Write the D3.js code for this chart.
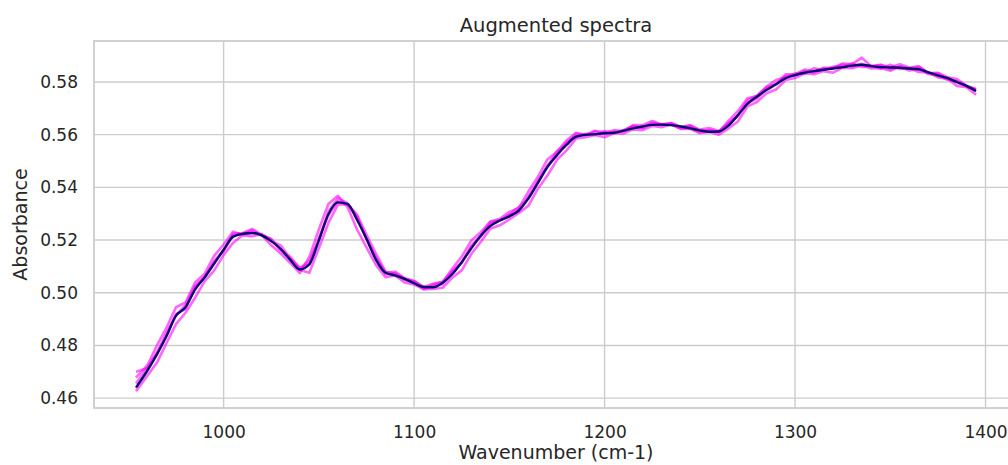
<!DOCTYPE html>
<html><head><meta charset="utf-8">
<script src="https://cdn.jsdelivr.net/npm/d3@7"></script>
<style>body{margin:0;background:#fff;overflow:hidden}svg{display:block;font-family:"DejaVu Sans",sans-serif}</style>
</head><body><svg id="chart" width="1008" height="465"></svg>
<script>
const wavenumbers=[954,960,965,970,975,980,985,990,995,1000,1005,1010,1015,1020,1025,1030,1035,1040,1045,1050,1055,1060,1065,1070,1075,1080,1085,1090,1095,1100,1105,1110,1115,1120,1125,1130,1135,1140,1145,1150,1155,1160,1165,1170,1175,1180,1185,1190,1195,1200,1205,1210,1215,1220,1225,1230,1235,1240,1245,1250,1255,1260,1265,1270,1275,1280,1285,1290,1295,1300,1305,1310,1315,1320,1325,1330,1335,1340,1345,1350,1355,1360,1365,1370,1375,1380,1385,1390,1395];
const meanSpectrum=[0.4640,0.4705,0.4766,0.4836,0.4913,0.4945,0.5012,0.5058,0.5110,0.5163,0.5213,0.5224,0.5227,0.5218,0.5196,0.5166,0.5125,0.5088,0.5108,0.5199,0.5298,0.5343,0.5337,0.5277,0.5205,0.5125,0.5076,0.5066,0.5053,0.5036,0.5022,0.5021,0.5038,0.5070,0.5116,0.5168,0.5216,0.5253,0.5274,0.5290,0.5313,0.5358,0.5417,0.5477,0.5523,0.5561,0.5592,0.5599,0.5602,0.5605,0.5607,0.5615,0.5624,0.5631,0.5637,0.5638,0.5636,0.5631,0.5624,0.5616,0.5611,0.5612,0.5634,0.5674,0.5717,0.5744,0.5769,0.5791,0.5814,0.5826,0.5835,0.5841,0.5846,0.5851,0.5856,0.5862,0.5865,0.5860,0.5856,0.5855,0.5854,0.5851,0.5848,0.5836,0.5825,0.5815,0.5799,0.5785,0.5765];
const augmented1=[0.4656,0.4716,0.4768,0.4849,0.4913,0.4954,0.5026,0.5059,0.5118,0.5162,0.5225,0.5227,0.5242,0.5220,0.5203,0.5164,0.5136,0.5092,0.5121,0.5199,0.5308,0.5359,0.5340,0.5289,0.5204,0.5133,0.5077,0.5080,0.5055,0.5045,0.5022,0.5034,0.5042,0.5081,0.5114,0.5178,0.5219,0.5268,0.5275,0.5297,0.5325,0.5357,0.5426,0.5479,0.5537,0.5565,0.5603,0.5599,0.5615,0.5608,0.5617,0.5613,0.5636,0.5636,0.5652,0.5639,0.5644,0.5630,0.5635,0.5619,0.5625,0.5614,0.5641,0.5674,0.5730,0.5748,0.5779,0.5792,0.5829,0.5829,0.5847,0.5840,0.5854,0.5853,0.5870,0.5867,0.5892,0.5860,0.5865,0.5856,0.5867,0.5855,0.5859,0.5834,0.5835,0.5818,0.5811,0.5786,0.5773];
const augmented2=[0.4678,0.4725,0.4800,0.4867,0.4945,0.4963,0.5039,0.5072,0.5140,0.5183,0.5232,0.5220,0.5228,0.5219,0.5180,0.5149,0.5113,0.5075,0.5136,0.5240,0.5337,0.5368,0.5326,0.5241,0.5172,0.5105,0.5059,0.5066,0.5039,0.5031,0.5014,0.5031,0.5041,0.5091,0.5137,0.5198,0.5230,0.5270,0.5281,0.5307,0.5322,0.5384,0.5440,0.5506,0.5535,0.5578,0.5607,0.5598,0.5612,0.5601,0.5611,0.5613,0.5632,0.5626,0.5646,0.5637,0.5637,0.5623,0.5626,0.5611,0.5618,0.5610,0.5652,0.5690,0.5738,0.5747,0.5782,0.5807,0.5818,0.5832,0.5833,0.5852,0.5845,0.5858,0.5857,0.5871,0.5857,0.5861,0.5850,0.5865,0.5849,0.5852,0.5838,0.5837,0.5817,0.5813,0.5785,0.5780,0.5751];
const augmented3=[0.4626,0.4685,0.4735,0.4809,0.4881,0.4924,0.4981,0.5043,0.5084,0.5143,0.5190,0.5218,0.5214,0.5223,0.5196,0.5180,0.5129,0.5086,0.5076,0.5169,0.5265,0.5334,0.5336,0.5297,0.5221,0.5148,0.5080,0.5072,0.5049,0.5041,0.5013,0.5014,0.5019,0.5057,0.5085,0.5147,0.5193,0.5243,0.5256,0.5278,0.5303,0.5330,0.5395,0.5445,0.5504,0.5540,0.5585,0.5590,0.5599,0.5590,0.5606,0.5604,0.5620,0.5617,0.5633,0.5628,0.5640,0.5622,0.5622,0.5605,0.5610,0.5600,0.5623,0.5650,0.5707,0.5724,0.5757,0.5771,0.5807,0.5815,0.5833,0.5829,0.5841,0.5835,0.5854,0.5852,0.5863,0.5851,0.5853,0.5842,0.5857,0.5843,0.5850,0.5830,0.5824,0.5808,0.5801,0.5783,0.5771];
const augmented4=[0.4700,0.4714,0.4775,0.4835,0.4919,0.4939,0.5020,0.5059,0.5117,0.5159,0.5218,0.5222,0.5237,0.5218,0.5204,0.5161,0.5128,0.5095,0.5107,0.5208,0.5294,0.5347,0.5335,0.5288,0.5205,0.5130,0.5070,0.5073,0.5054,0.5044,0.5020,0.5025,0.5033,0.5080,0.5115,0.5174,0.5213,0.5261,0.5274,0.5295,0.5308,0.5365,0.5418,0.5483,0.5519,0.5571,0.5591,0.5603,0.5599,0.5614,0.5605,0.5618,0.5632,0.5625,0.5642,0.5638,0.5643,0.5627,0.5635,0.5614,0.5615,0.5611,0.5643,0.5671,0.5720,0.5738,0.5775,0.5791,0.5822,0.5825,0.5842,0.5836,0.5851,0.5852,0.5866,0.5859,0.5869,0.5858,0.5864,0.5848,0.5859,0.5851,0.5857,0.5834,0.5832,0.5811,0.5803,0.5784,0.5771];
const xTicks=[1000,1100,1200,1300,1400];
const yTicks=[0.46,0.48,0.50,0.52,0.54,0.56,0.58];
const titleText="Augmented spectra";
const xLabel="Wavenumber (cm-1)";
const yLabel="Absorbance";

const svg=d3.select("#chart");
const L=94,R=1018,T=41,B=408;
const augSeries=[augmented1,augmented2,augmented3,augmented4];
const allVals=augSeries.flat().concat(meanSpectrum);
const [xmin,xmax]=d3.extent(wavenumbers);
const xpad=(xmax-xmin)*0.05;
const [ymin,ymax]=d3.extent(allVals);
const ypad=(ymax-ymin)*0.05;
const x=d3.scaleLinear().domain([xmin-xpad,xmax+xpad]).range([L,R]);
const y=d3.scaleLinear().domain([ymin-ypad,ymax+ypad]).range([B,T]);

const gridC="#cccccc";
svg.append("g").selectAll("line").data(xTicks).join("line")
  .attr("x1",d=>x(d)).attr("x2",d=>x(d)).attr("y1",T).attr("y2",B)
  .attr("stroke",gridC).attr("stroke-width",1.4);
svg.append("g").selectAll("line").data(yTicks).join("line")
  .attr("y1",d=>y(d)).attr("y2",d=>y(d)).attr("x1",L).attr("x2",R)
  .attr("stroke",gridC).attr("stroke-width",1.4);
svg.append("rect").attr("x",L).attr("y",T).attr("width",R-L).attr("height",B-T)
  .attr("fill","none").attr("stroke",gridC).attr("stroke-width",1.8);

const line=d3.line().x((d,i)=>x(wavenumbers[i])).y(d=>y(d));
svg.append("g").selectAll("path").data(augSeries).join("path")
  .attr("d",line).attr("fill","none").attr("stroke","#ff00ff")
  .attr("stroke-opacity",0.6).attr("stroke-width",2.6).attr("stroke-linejoin","round");
const smooth=d3.line().curve(d3.curveMonotoneX).x((d,i)=>x(wavenumbers[i])).y(d=>y(d));
svg.append("path").datum(meanSpectrum).attr("d",smooth).attr("fill","none")
  .attr("stroke","#0a0a6e").attr("stroke-width",2.4).attr("stroke-linejoin","round");

const ax=svg.append("g").attr("transform",`translate(0,${B})`)
  .call(d3.axisBottom(x).tickValues(xTicks).tickSize(0).tickPadding(18).tickFormat(d3.format("d")));
const ay=svg.append("g").attr("transform",`translate(${L},0)`)
  .call(d3.axisLeft(y).tickValues(yTicks).tickSize(0).tickPadding(16).tickFormat(d3.format(".2f")));
[ax,ay].forEach(g=>{g.select(".domain").remove();
  g.selectAll("text").attr("font-family","DejaVu Sans").attr("font-size",17).attr("fill","#262626");});

svg.append("text").attr("x",(L+R)/2).attr("y",31.5).attr("text-anchor","middle")
  .attr("font-size",19.5).attr("fill","#262626").text(titleText);
svg.append("text").attr("x",(L+R)/2).attr("y",459).attr("text-anchor","middle")
  .attr("font-size",19).attr("fill","#262626").text(xLabel);
svg.append("text").attr("transform",`translate(27,${(T+B)/2}) rotate(-90)`).attr("text-anchor","middle")
  .attr("font-size",19).attr("fill","#262626").text(yLabel);
</script></body></html>
